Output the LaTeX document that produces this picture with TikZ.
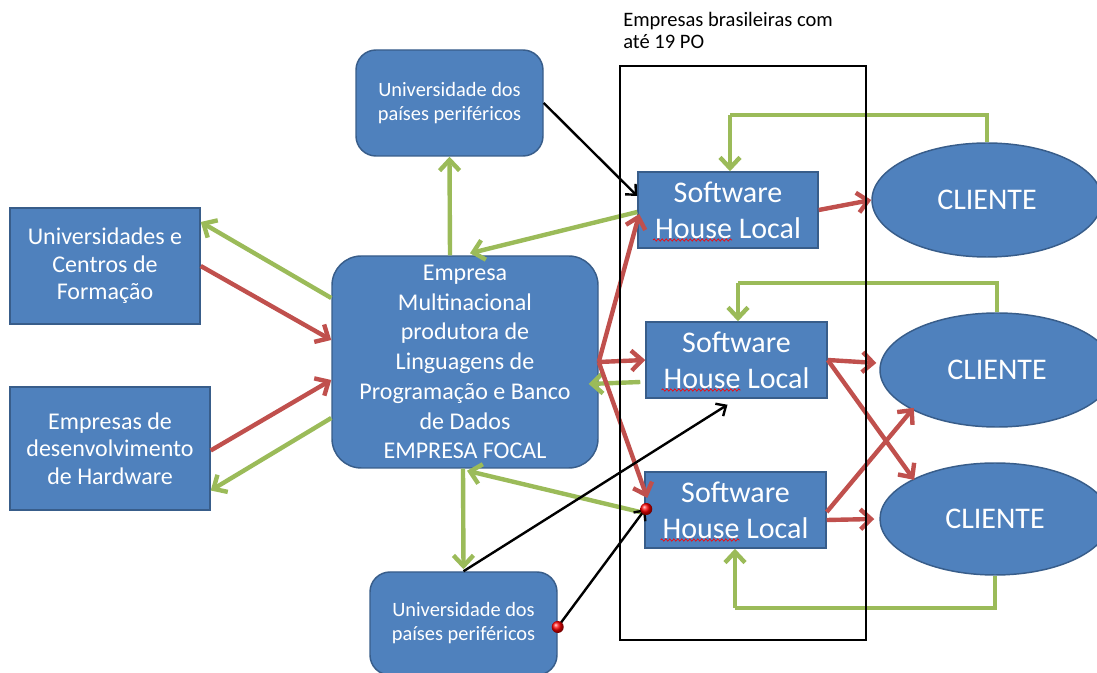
\documentclass[tikz,border=0pt]{standalone}
\usepackage{fontspec}
\setmainfont{Carlito}
\usetikzlibrary{arrows.meta,calc,shapes.geometric,decorations.pathmorphing}
\definecolor{boxblue}{HTML}{4F81BD}
\definecolor{boxline}{HTML}{385D8A}
\definecolor{lgreen}{HTML}{9BBB59}
\definecolor{lred}{HTML}{C0504D}
\begin{document}
\begin{tikzpicture}[x=0.75pt,y=-0.75pt,
  box/.style={draw=boxline, line width=1.1pt, fill=boxblue, text=white, align=center, inner sep=0pt},
  rbox/.style={box, rounded corners=#1},
  shbox/.style={box, minimum width=180*0.75pt, minimum height=76*0.75pt, font=\fontsize{22.5}{27}\selectfont},
  cli/.style={box, ellipse, font=\fontsize{22.5}{27}\selectfont},
  garrow/.style={draw=lgreen, line width=3.3pt, -{Straight Barb[length=8pt,width=15pt]}},
  rarrow/.style={draw=lred, line width=3.3pt, -{Straight Barb[length=8pt,width=15pt]}},
  glink/.style={draw=lgreen, line width=3.3pt},
  barrow/.style={draw=black, line width=1.8pt, -{Straight Barb[length=6pt,width=11pt]}},
  wavy/.style={draw=red, line width=0.5pt, decorate, decoration={snake, amplitude=0.8pt, segment length=3pt}},
  handle/.style={ball color=red}
]
\useasboundingbox (0,0) rectangle (1097,673);
\begin{scope}
\clip (0,0) rectangle (1097,673);
% nodes
\node[box, minimum width=190*0.75pt, minimum height=116*0.75pt, font=\fontsize{18}{20.6}\selectfont] (uc) at (105,266) {Universidades e\\Centros de\\Formação};
\node[box, minimum width=200*0.75pt, minimum height=123*0.75pt, font=\fontsize{18}{20.6}\selectfont] (hw) at (110,448.5) {Empresas de\\desenvolvimento\\de Hardware};
\node[rbox=22pt, minimum width=266*0.75pt, minimum height=212*0.75pt, font=\fontsize{18}{22.3}\selectfont] (emp) at (465,362) {Empresa\\Multinacional\\produtora de\\Linguagens de\\Programação e Banco\\de Dados\\EMPRESA FOCAL};
\node[rbox=15pt, minimum width=187*0.75pt, minimum height=106*0.75pt, font=\fontsize{15.3}{18}\selectfont] (ut) at (449.5,103) {Universidade dos\\países periféricos};
\node[rbox=15pt, minimum width=187*0.75pt, minimum height=103*0.75pt, font=\fontsize{15.3}{18}\selectfont] (ub) at (463.5,623.5) {Universidade dos\\países periféricos};
\node[shbox] (sh1) at (728,210) {Software\\House Local};
\node[shbox, minimum width=181*0.75pt] (sh2) at (736.5,360) {Software\\House Local};
\node[shbox, minimum width=181*0.75pt] (sh3) at (735.5,510) {Software\\House Local};
\node[cli, minimum width=230*0.75pt, minimum height=114*0.75pt] (c1) at (987,200) {CLIENTE};
\node[cli, minimum width=234*0.75pt, minimum height=114*0.75pt] (c2) at (997,370) {CLIENTE};
\node[cli, minimum width=230*0.75pt, minimum height=112*0.75pt] (c3) at (995,519) {CLIENTE};
\node[anchor=north west, align=left, inner sep=0pt, font=\fontsize{15.4}{16.5}\selectfont] (title) at (623,12) {Empresas brasileiras com\\até 19 PO};

% spell-check underlines
\foreach \n in {sh1,sh2,sh3}{
  \draw[wavy] ($(\n.center)+(-75,30)$) -- ($(\n.center)+(4,30)$);
}

% left side
\draw[garrow] ($(emp.west)+(0,-64)$) -- ($(uc.east)+(0,-44)$);
\draw[rarrow] (uc.east) -- ($(emp.west)+(0,-22)$);
\draw[rarrow] ($(hw.east)+(0,2)$) -- ($(emp.west)+(0,18)$);
\draw[garrow] ($(emp.west)+(0,56)$) -- ($(hw.east)+(0,42)$);
\draw[garrow] ($(emp.north)+(-15,0)$) -- (ut.south);
\draw[garrow] ($(emp.south)+(-2,0)$) -- ($(ub.north)+(0,-2)$);

% to software houses
\draw[garrow] ($(sh1.west)+(0,2)$) -- ($(emp.north)+(5,-2)$);
\draw[rarrow] (emp.east) -- ($(sh1.west)+(2,4)$);
\draw[rarrow] (emp.east) -- (sh2.west);
\draw[garrow] ($(sh2.west)+(-5,22)$) -- ($(emp.east)+(-10,22)$);
\draw[rarrow] (emp.east) -- ($(sh3.west)+(3,-12)$);
\draw[garrow] ($(sh3.west)+(0,3)$) -- ($(emp.south)+(2,2)$);

% black links
\draw[barrow] (ut.east) -- ($(sh1.west)+(0,-14)$);
\draw[barrow] (ub.north) -- ($(sh2.south)+(-9,6)$);
\draw[barrow] ($(ub.east)+(0,3.5)$) -- ($(sh3.west)+(1,-1)$);

% to clients
\draw[rarrow] (sh1.east) -- (c1.west);
\draw[rarrow] (sh2.east) -- ($(c2.west)+(-3,-7)$);
\draw[rarrow] (sh2.east) -- ($(c3.north west)+(1,1)$);
\draw[rarrow] ($(sh3.east)+(0,2)$) -- ($(c2.south west)+(0,-3)$);
\draw[rarrow] ($(sh3.east)+(0,10)$) -- ($(c3.west)+(-5,0)$);

% feedback elbows
\draw[glink] (c1.north) |- (730,115) coordinate (e1);
\draw[garrow] (e1) -- (sh1.north -| e1);
\draw[glink] (c2.north) |- (738,283) coordinate (e2);
\draw[garrow] (e2) -- (sh2.north -| e2);
\draw[glink] (c3.south) |- (735,608) coordinate (e3);
\draw[garrow] (e3) -- (sh3.south -| e3);

% frame of Brazilian firms
\draw[black, line width=2pt] (620,66) rectangle (866,640);

% connector handles
\shade[handle] ($(ub.east)+(0,3.5)$) circle[radius=4.5pt];
\shade[handle] ($(sh3.west)+(2,-1)$) circle[radius=4.5pt];
\end{scope}
\end{tikzpicture}
\end{document}
